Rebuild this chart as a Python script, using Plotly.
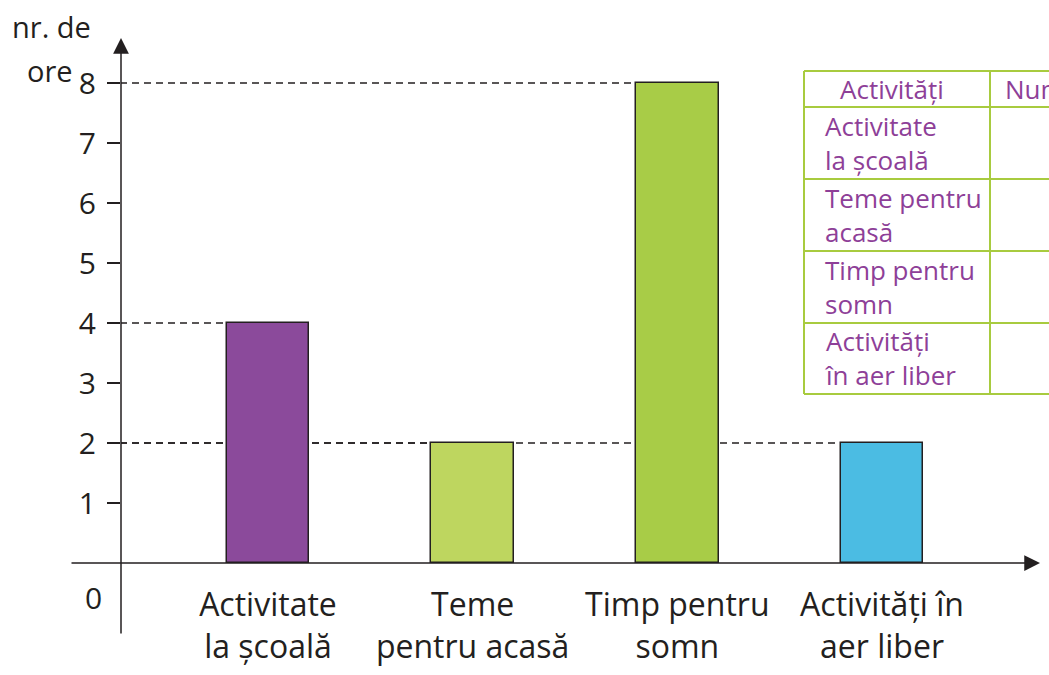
import plotly.graph_objects as go

# Data: hours per activity
categories = ["Activitate<br>la școală", "Teme<br>pentru acasă", "Timp pentru<br>somn", "Activități în<br>aer liber"]
hours = [4, 2, 8, 2]
bar_colors = ["#8B4A9B", "#BED65F", "#A8CC47", "#4BBCE3"]
tick_values = [1, 2, 3, 4, 5, 6, 7, 8]

# Table listing the activities
table_header = ["Activități", "Numărul de ore"]
table_rows = ["Activitate<br>la școală", "Teme pentru<br>acasă", "Timp pentru<br>somn", "Activități<br>în aer liber"]

# Figure geometry (pixels)
W, H = 1049, 675
ML, MR, MT, MB = 121, 9, 38, 112
PW, PH = W - ML - MR, H - MT - MB
X_RANGE = [-0.718, 3.772]
Y_RANGE = [0, 8.75]
BAR_W = 0.405

INK = "#231F20"
PURPLE = "#8E3F98"
GREEN = "#A8CB3F"
FONT = "Open Sans"


def px_x(p):
    return (p - ML) / PW


def px_y(p):
    return (H - MB - p) / PH


fig = go.Figure()
fig.add_trace(go.Bar(
    x=categories, y=hours, width=BAR_W,
    marker=dict(color=bar_colors, line=dict(color=INK, width=1.5)),
    hoverinfo="x+y", showlegend=False,
))

shapes = []
# Dashed guide lines from the vertical axis to each bar's top-left corner
tick_len_units = 13 / (PW / (X_RANGE[1] - X_RANGE[0]))
for i, v in enumerate(hours):
    shapes.append(dict(
        type="line", xref="x", yref="y",
        x0=X_RANGE[0] - tick_len_units, x1=i - BAR_W / 2, y0=v, y1=v,
        line=dict(color=INK, width=1.3, dash="7px,5px"), layer="below",
    ))

# Table grid
t_left, t_right, t_div = 804, 1070, 990
row_edges = [71, 107, 179, 251, 323, 394]
for yy in row_edges:
    shapes.append(dict(type="line", xref="paper", yref="paper",
                       x0=px_x(t_left), x1=px_x(t_right), y0=px_y(yy), y1=px_y(yy),
                       line=dict(color=GREEN, width=2)))
for xx in (t_left, t_div):
    shapes.append(dict(type="line", xref="paper", yref="paper",
                       x0=px_x(xx), x1=px_x(xx), y0=px_y(row_edges[0]), y1=px_y(row_edges[-1]),
                       line=dict(color=GREEN, width=2)))

annotations = []
# Axes with arrowheads
annotations.append(dict(xref="paper", yref="paper", x=0, y=1, ax=0, ay=597,
                        axref="pixel", ayref="pixel", text="", showarrow=True,
                        arrowhead=2, arrowsize=2.1, arrowwidth=1.5, arrowcolor=INK))
annotations.append(dict(xref="paper", yref="paper", x=1, y=0, ax=-970, ay=0,
                        text="", showarrow=True,
                        arrowhead=2, arrowsize=2.1, arrowwidth=1.5, arrowcolor=INK))
# Origin label
annotations.append(dict(xref="paper", yref="y", x=0, y=0, xanchor="center", yanchor="middle",
                        xshift=-28, yshift=-34, text="0", showarrow=False,
                        font=dict(family=FONT, size=30, color=INK)))
# Axis title
annotations.append(dict(xref="paper", yref="paper", x=px_x(51), y=px_y(27), xanchor="center",
                        yanchor="middle", text="nr. de", showarrow=False,
                        font=dict(family=FONT, size=29, color=INK)))
annotations.append(dict(xref="paper", yref="paper", x=px_x(50), y=px_y(70), xanchor="center",
                        yanchor="middle", text="ore", showarrow=False,
                        font=dict(family=FONT, size=29, color=INK)))
# Table texts
annotations.append(dict(xref="paper", yref="paper", x=px_x(892), y=px_y(89), xanchor="center",
                        yanchor="middle", text=table_header[0], showarrow=False,
                        font=dict(family=FONT, size=26, color=PURPLE)))
annotations.append(dict(xref="paper", yref="paper", x=px_x(1003), y=px_y(89), xanchor="left",
                        yanchor="middle", text=table_header[1], showarrow=False,
                        font=dict(family=FONT, size=26, color=PURPLE)))
for k, label in enumerate(table_rows):
    yc = (row_edges[k + 1] + row_edges[k + 2]) / 2
    annotations.append(dict(xref="paper", yref="paper", x=px_x(823), y=px_y(yc), xanchor="left",
                            yanchor="middle", align="left", text=label, showarrow=False,
                            font=dict(family=FONT, size=26, color=PURPLE)))

fig.update_layout(
    width=W, height=H,
    margin=dict(l=ML, r=MR, t=MT, b=MB, pad=0),
    paper_bgcolor="white", plot_bgcolor="white",
    font=dict(family=FONT, color=INK),
    xaxis=dict(range=X_RANGE, showgrid=False, zeroline=False, showline=False,
               ticks="", tickfont=dict(size=32, color=INK), ticklabelstandoff=20,
               fixedrange=True),
    yaxis=dict(range=Y_RANGE, showgrid=False, zeroline=False, showline=False,
               tickmode="array", tickvals=tick_values, ticks="outside", ticklen=13,
               tickwidth=1.5, tickcolor=INK, tickfont=dict(size=30, color=INK),
               ticklabelstandoff=5, fixedrange=True),
    yaxis2=dict(range=Y_RANGE, overlaying="y", side="left", showgrid=False,
                zeroline=False, showline=False, tickmode="array", tickvals=tick_values,
                ticks="inside", ticklen=10, tickwidth=1.5, tickcolor=INK,
                showticklabels=False, fixedrange=True),
    shapes=shapes, annotations=annotations,
    bargap=0,
)

fig.write_html("out.html")
